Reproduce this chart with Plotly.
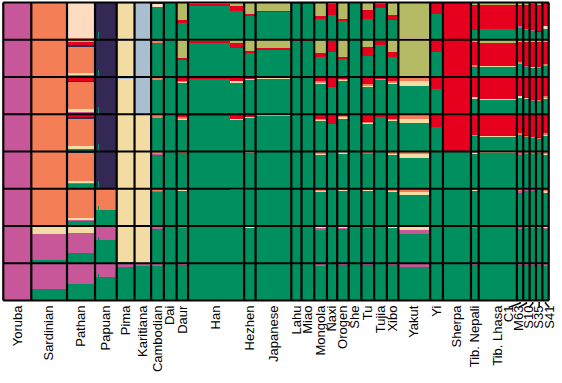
import plotly.graph_objects as go

# ---------------- data ----------------
populations = ["Yoruba", "Sardinian", "Pathan", "Papuan", "Pima", "Karitiana", "Cambodian", "Dai",
               "Daur", "Han", "Hezhen", "Japanese", "Lahu", "Miao", "Mongola", "Naxi", "Orogen",
               "She", "Tu", "Tujia", "Xibo", "Yakut", "Yi", "Sherpa", "Tib. Nepali", "Tib. Lhasa",
               "C1", "M63", "S10", "S35", "S41"]
pop_sizes = [22, 28, 22, 17, 14, 13, 10, 10, 9, 44, 9, 28, 8, 10, 10, 8, 9, 10, 10, 10, 9, 25, 10,
             22, 6, 30, 5, 5, 5, 5, 5]
# sub-groups of individuals inside a population (key, count)
subgroups = {"Papuan": [("Papuan", 2), ("Papuan*", 1), ("Papuan", 14)],
             "Han": [("Han", 33), ("Han*", 11)]}
single_genomes = ["C1", "M63", "S10", "S35", "S41"]

component_keys = ["G", "P", "T", "B", "O", "E", "N", "R", "L"]   # stacking bottom -> top
component_colors = ["#009060", "#C8579A", "#F2DCA3", "#A9BFCF", "#F47F56", "#FEDCC2",
                    "#332954", "#E6001E", "#B5BA64"]

# ancestry proportions (G = remainder)
K9 = {"Yoruba": {"P": 1}, "Sardinian": {"O": 1}, "Pathan": {"E": 0.96, "O": 0.02},
      "Papuan": {"N": 1}, "Papuan*": {"N": 0.8}, "Pima": {"T": 0.97, "B": 0.03},
      "Karitiana": {"B": 1}, "Cambodian": {"E": 0.09, "N": 0.02}, "Dai": {},
      "Daur": {"R": 0.06, "L": 0.48}, "Han": {"R": 0.05, "L": 0.02}, "Han*": {"R": 0.12, "L": 0.1},
      "Hezhen": {"R": 0.05, "L": 0.3}, "Japanese": {"R": 0.03, "L": 0.22}, "Lahu": {"R": 0.03},
      "Miao": {"R": 0.03}, "Mongola": {"R": 0.1, "L": 0.35}, "Naxi": {"R": 0.3, "L": 0.03},
      "Orogen": {"R": 0.06, "L": 0.45}, "She": {}, "Tu": {"R": 0.24, "L": 0.2},
      "Tujia": {"R": 0.12, "L": 0.03}, "Xibo": {"R": 0.12, "L": 0.34},
      "Yakut": {"O": 0.02, "E": 0.01, "L": 0.96}, "Yi": {"R": 0.32}, "Sherpa": {"R": 1},
      "Tib. Nepali": {"R": 0.68, "L": 0.06}, "Tib. Lhasa": {"R": 0.64, "L": 0.06},
      "C1": {"P": 0.02, "R": 0.58, "L": 0.06}, "M63": {"P": 0.02, "R": 0.64, "L": 0.06},
      "S10": {"P": 0.02, "R": 0.7, "L": 0.04}, "S35": {"N": 0.02, "R": 0.7, "L": 0.06},
      "S41": {"R": 0.62, "E": 0.08}}
K8 = {"Yoruba": {"P": 1}, "Sardinian": {"O": 1},
      "Pathan": {"P": 0.02, "T": 0.04, "O": 0.72, "N": 0.05, "R": 0.08, "L": 0.05},
      "Papuan": {"N": 1}, "Papuan*": {"N": 0.8}, "Pima": {"T": 0.97, "B": 0.03},
      "Karitiana": {"B": 1}, "Cambodian": {"O": 0.07, "N": 0.02}, "Dai": {},
      "Daur": {"R": 0.06, "L": 0.48}, "Han": {"R": 0.05, "L": 0.02}, "Han*": {"R": 0.12, "L": 0.1},
      "Hezhen": {"R": 0.05, "L": 0.3}, "Japanese": {"R": 0.03, "L": 0.22}, "Lahu": {"R": 0.03},
      "Miao": {"R": 0.03}, "Mongola": {"R": 0.1, "L": 0.35}, "Naxi": {"R": 0.3, "L": 0.03},
      "Orogen": {"R": 0.06, "L": 0.45}, "She": {}, "Tu": {"R": 0.24, "L": 0.2},
      "Tujia": {"R": 0.12, "L": 0.03}, "Xibo": {"R": 0.12, "L": 0.34},
      "Yakut": {"O": 0.02, "L": 0.97}, "Yi": {"R": 0.32}, "Sherpa": {"R": 1},
      "Tib. Nepali": {"O": 0.02, "R": 0.65, "L": 0.04}, "Tib. Lhasa": {"T": 0.01, "R": 0.62, "L": 0.08},
      "C1": {"O": 0.04, "R": 0.56, "L": 0.05}, "M63": {"P": 0.02, "R": 0.65, "L": 0.06},
      "S10": {"T": 0.02, "R": 0.68, "L": 0.04}, "S35": {"O": 0.02, "R": 0.68, "L": 0.05},
      "S41": {"O": 0.06, "R": 0.6, "L": 0.05}}
K7 = {"Yoruba": {"P": 1}, "Sardinian": {"O": 1},
      "Pathan": {"P": 0.02, "T": 0.05, "O": 0.74, "N": 0.03, "R": 0.1},
      "Papuan": {"N": 1}, "Papuan*": {"N": 0.8}, "Pima": {"T": 0.97, "B": 0.03},
      "Karitiana": {"B": 1}, "Cambodian": {"O": 0.06, "N": 0.02}, "Dai": {},
      "Daur": {"T": 0.03, "O": 0.02, "R": 0.1}, "Han": {"R": 0.03}, "Han*": {"T": 0.02, "R": 0.12},
      "Hezhen": {"T": 0.03, "R": 0.05}, "Japanese": {"T": 0.01, "R": 0.02}, "Lahu": {"R": 0.02},
      "Miao": {"R": 0.02}, "Mongola": {"T": 0.04, "O": 0.02, "R": 0.12}, "Naxi": {"R": 0.26},
      "Orogen": {"T": 0.06, "O": 0.02, "R": 0.04}, "She": {}, "Tu": {"T": 0.02, "O": 0.03, "R": 0.2},
      "Tujia": {"O": 0.01, "R": 0.05}, "Xibo": {"T": 0.03, "O": 0.02, "R": 0.12},
      "Yakut": {"T": 0.12, "O": 0.1, "R": 0.02}, "Yi": {"R": 0.33}, "Sherpa": {"R": 1},
      "Tib. Nepali": {"T": 0.03, "R": 0.55}, "Tib. Lhasa": {"T": 0.02, "R": 0.58},
      "C1": {"P": 0.02, "T": 0.02, "R": 0.52}, "M63": {"T": 0.02, "R": 0.56},
      "S10": {"P": 0.02, "R": 0.62}, "S35": {"O": 0.02, "R": 0.62},
      "S41": {"T": 0.02, "O": 0.04, "R": 0.52}}
K6 = {"Yoruba": {"P": 1}, "Sardinian": {"O": 1},
      "Pathan": {"P": 0.02, "T": 0.05, "O": 0.74, "N": 0.04, "R": 0.08},
      "Papuan": {"N": 1}, "Papuan*": {"N": 0.8}, "Pima": {"T": 0.99, "R": 0.01},
      "Karitiana": {"T": 1}, "Cambodian": {"O": 0.07, "N": 0.02}, "Dai": {},
      "Daur": {"T": 0.03, "O": 0.03, "R": 0.08}, "Han": {"R": 0.03}, "Han*": {"T": 0.02, "R": 0.12},
      "Hezhen": {"T": 0.03, "R": 0.05}, "Japanese": {"T": 0.01, "R": 0.02}, "Lahu": {"R": 0.02},
      "Miao": {"R": 0.02}, "Mongola": {"T": 0.04, "O": 0.02, "R": 0.12}, "Naxi": {"R": 0.26},
      "Orogen": {"T": 0.06, "O": 0.02, "R": 0.04}, "She": {}, "Tu": {"T": 0.02, "O": 0.03, "R": 0.2},
      "Tujia": {"O": 0.01, "R": 0.05}, "Xibo": {"T": 0.03, "O": 0.02, "R": 0.12},
      "Yakut": {"T": 0.12, "O": 0.1, "R": 0.02}, "Yi": {"R": 0.33}, "Sherpa": {"R": 1},
      "Tib. Nepali": {"O": 0.03, "R": 0.55}, "Tib. Lhasa": {"T": 0.02, "R": 0.58},
      "C1": {"O": 0.05, "R": 0.5}, "M63": {"O": 0.03, "N": 0.02, "R": 0.55},
      "S10": {"O": 0.02, "R": 0.6}, "S35": {"O": 0.02, "N": 0.02, "R": 0.6},
      "S41": {"T": 0.02, "O": 0.06, "R": 0.5}}
K5 = {"Yoruba": {"P": 1}, "Sardinian": {"O": 1},
      "Pathan": {"P": 0.03, "T": 0.06, "O": 0.75, "N": 0.03},
      "Papuan": {"N": 1}, "Papuan*": {"N": 0.8}, "Pima": {"T": 0.98}, "Karitiana": {"T": 1},
      "Cambodian": {"P": 0.02, "O": 0.06, "N": 0.01}, "Dai": {"N": 0.005},
      "Daur": {"T": 0.02, "O": 0.02}, "Han": {"O": 0.005}, "Han*": {"T": 0.01},
      "Hezhen": {"T": 0.02, "O": 0.01}, "Japanese": {"N": 0.005}, "Lahu": {}, "Miao": {},
      "Mongola": {"T": 0.03, "O": 0.05}, "Naxi": {}, "Orogen": {"T": 0.04, "O": 0.01}, "She": {},
      "Tu": {"P": 0.01, "T": 0.01, "O": 0.03}, "Tujia": {}, "Xibo": {"T": 0.02, "O": 0.05},
      "Yakut": {"T": 0.1, "O": 0.08}, "Yi": {}, "Sherpa": {"N": 0.005},
      "Tib. Nepali": {"T": 0.03, "O": 0.02}, "Tib. Lhasa": {"T": 0.02, "O": 0.01},
      "C1": {"P": 0.06, "O": 0.03}, "M63": {"P": 0.02, "O": 0.03}, "S10": {"P": 0.02, "O": 0.03},
      "S35": {"T": 0.02, "O": 0.02}, "S41": {"T": 0.04, "O": 0.05}}
K4 = {"Yoruba": {"P": 1}, "Sardinian": {"O": 1},
      "Pathan": {"P": 0.03, "T": 0.05, "O": 0.78},
      "Papuan": {"O": 0.56}, "Papuan*": {"O": 0.45}, "Pima": {"T": 0.98}, "Karitiana": {"T": 1},
      "Cambodian": {"P": 0.02, "O": 0.05}, "Dai": {}, "Daur": {"T": 0.02, "O": 0.02},
      "Han": {}, "Han*": {"T": 0.01}, "Hezhen": {"T": 0.02, "O": 0.01}, "Japanese": {},
      "Lahu": {}, "Miao": {}, "Mongola": {"T": 0.03, "O": 0.05}, "Naxi": {},
      "Orogen": {"T": 0.04, "O": 0.01}, "She": {}, "Tu": {"P": 0.01, "T": 0.01, "O": 0.03},
      "Tujia": {}, "Xibo": {"T": 0.02, "O": 0.05}, "Yakut": {"T": 0.1, "O": 0.08}, "Yi": {},
      "Sherpa": {}, "Tib. Nepali": {"P": 0.01, "T": 0.02, "O": 0.02},
      "Tib. Lhasa": {"T": 0.02, "O": 0.01}, "C1": {"P": 0.05, "O": 0.04},
      "M63": {"P": 0.02, "O": 0.03}, "S10": {"P": 0.02, "O": 0.03}, "S35": {"O": 0.03},
      "S41": {"T": 0.04, "O": 0.05}}
K3 = {"Yoruba": {"P": 1}, "Sardinian": {"P": 0.69, "T": 0.22}, "Pathan": {"P": 0.53, "T": 0.19},
      "Papuan": {"P": 0.37}, "Papuan*": {"P": 0.29}, "Pima": {"T": 0.97}, "Karitiana": {"T": 1},
      "Cambodian": {"P": 0.04, "T": 0.02}, "Dai": {}, "Daur": {"P": 0.02, "T": 0.02},
      "Han": {}, "Han*": {"T": 0.005}, "Hezhen": {"T": 0.03}, "Japanese": {}, "Lahu": {},
      "Miao": {}, "Mongola": {"P": 0.05, "T": 0.05}, "Naxi": {}, "Orogen": {"P": 0.02, "T": 0.04},
      "She": {}, "Tu": {"P": 0.03, "T": 0.01}, "Tujia": {}, "Xibo": {"P": 0.02, "T": 0.03},
      "Yakut": {"P": 0.12, "T": 0.1}, "Yi": {}, "Sherpa": {}, "Tib. Nepali": {"P": 0.03},
      "Tib. Lhasa": {"P": 0.01}, "C1": {"P": 0.08}, "M63": {"P": 0.05}, "S10": {"P": 0.04},
      "S35": {"P": 0.02, "T": 0.02}, "S41": {"P": 0.05, "T": 0.03}}
K2 = {"Yoruba": {"P": 1}, "Sardinian": {"P": 0.7}, "Pathan": {"P": 0.55}, "Papuan": {"P": 0.37},
      "Papuan*": {"P": 0.28}, "Pima": {"P": 0.1}, "Karitiana": {"P": 0.08}, "Cambodian": {"P": 0.05},
      "Dai": {"P": 0.01}, "Daur": {"P": 0.03}, "Han": {"P": 0.005}, "Han*": {"P": 0.005},
      "Hezhen": {"P": 0.01}, "Japanese": {"P": 0.005}, "Lahu": {}, "Miao": {"P": 0.005},
      "Mongola": {"P": 0.05}, "Naxi": {"P": 0.01}, "Orogen": {"P": 0.03}, "She": {"P": 0.005},
      "Tu": {"P": 0.04}, "Tujia": {}, "Xibo": {"P": 0.03}, "Yakut": {"P": 0.1}, "Yi": {},
      "Sherpa": {"P": 0.01}, "Tib. Nepali": {"P": 0.04}, "Tib. Lhasa": {"P": 0.01},
      "C1": {"P": 0.06}, "M63": {"P": 0.04}, "S10": {"P": 0.03}, "S35": {"P": 0.03},
      "S41": {"P": 0.05}}
rows_top_to_bottom = [K9, K8, K7, K6, K5, K4, K3, K2]

# ---------------- build figure ----------------
n_rows = len(rows_top_to_bottom)
groups = []
for pop, n in zip(populations, pop_sizes):
    groups.extend(subgroups.get(pop, [(pop, n)]))
total = sum(pop_sizes)

traces = {k: dict(x=[], y=[], base=[], width=[]) for k in component_keys}
for r, row in enumerate(rows_top_to_bottom):
    y_off = n_rows - 1 - r
    start = 0
    for key, n in groups:
        comp = row.get(key, {})
        vals = dict(comp)
        vals["G"] = max(0.0, 1.0 - sum(comp.values()))
        cum = 0.0
        for k in component_keys:
            v = vals.get(k, 0.0)
            if v > 0:
                t = traces[k]
                t["x"].append(start + n / 2)
                t["y"].append(v)
                t["base"].append(y_off + cum)
                t["width"].append(n)
                cum += v
        start += n

fig = go.Figure()
for k, col in zip(component_keys, component_colors):
    t = traces[k]
    fig.add_trace(go.Bar(x=t["x"], y=t["y"], base=t["base"], width=t["width"],
                         marker=dict(color=col, line=dict(width=0)), showlegend=False,
                         hoverinfo="skip"))

# population boundaries
bounds = [0]
for n in pop_sizes:
    bounds.append(bounds[-1] + n)
centers = [(a + b) / 2 for a, b in zip(bounds[:-1], bounds[1:])]

shapes = []
for b in bounds:
    shapes.append(dict(type="line", xref="x", yref="y", x0=b, x1=b, y0=0, y1=n_rows,
                       line=dict(color="black", width=2.2), layer="above"))
for yv in range(n_rows + 1):
    shapes.append(dict(type="line", xref="x", yref="y", x0=0, x1=total, y0=yv, y1=yv,
                       line=dict(color="black", width=2.2), layer="above"))

# tick positions (single genomes fanned out with connectors)
single_idx = [populations.index(s) for s in single_genomes]
single_mid = sum(centers[i] for i in single_idx) / len(single_idx)
tick_pos = list(centers)
for i in single_idx:
    tick_pos[i] = single_mid - 3 + (centers[i] - single_mid) * 1.6
    shapes.append(dict(type="path", xref="x", yref="paper",
                       path=f"M {centers[i]} 0 L {centers[i]} -0.004 L {tick_pos[i]} -0.018",
                       line=dict(color="black", width=1.5)))

fig.update_layout(
    shapes=shapes,
    barmode="overlay",
    width=562, height=383,
    margin=dict(l=2, r=12, t=1, b=81),
    paper_bgcolor="white", plot_bgcolor="white",
    xaxis=dict(range=[-1, total + 1], showgrid=False, zeroline=False, showline=False,
               tickmode="array", tickvals=tick_pos, ticktext=populations, tickangle=-90,
               ticks="", automargin=False,
               tickfont=dict(family="Liberation Sans, Arial", size=13, color="black")),
    yaxis=dict(range=[-0.04, n_rows + 0.04], visible=False, fixedrange=True),
    bargap=0,
)
fig.write_html("out.html", config={"responsive": False, "displayModeBar": False},
               post_script="document.body.style.margin='0';document.body.style.padding='0';"
                           "document.body.style.overflow='hidden';")
